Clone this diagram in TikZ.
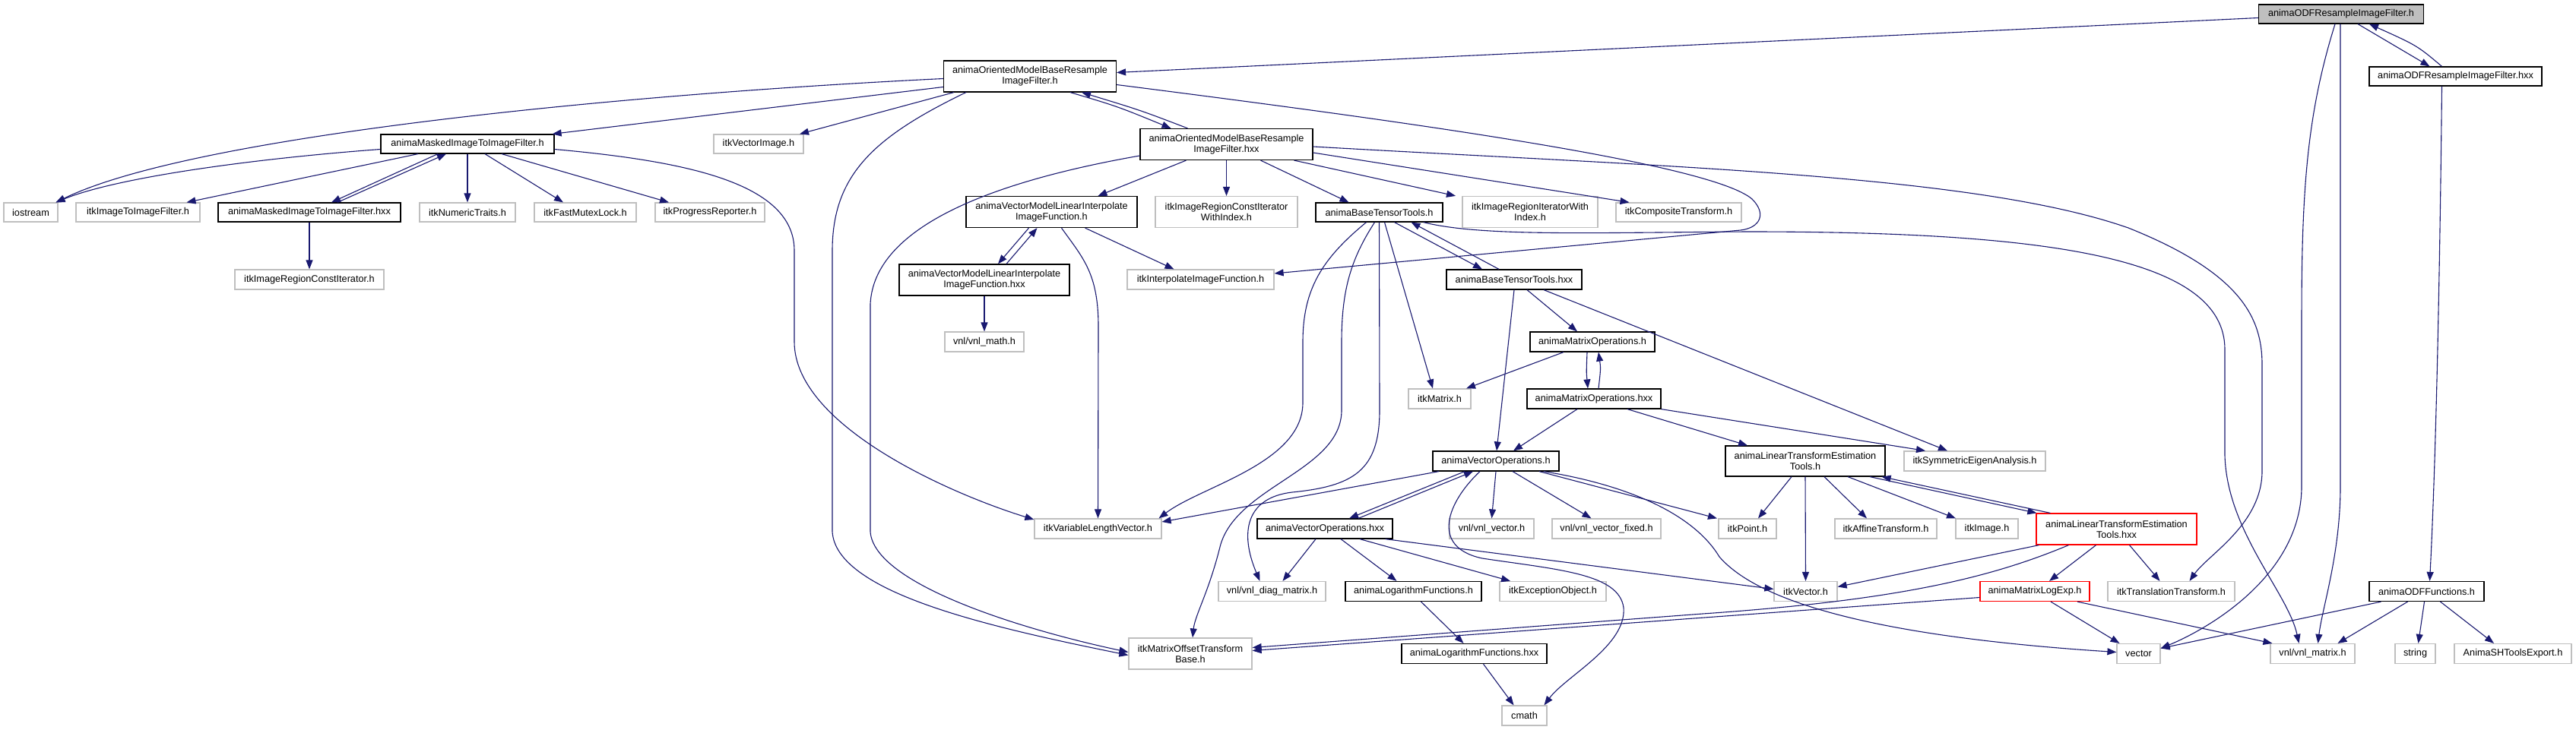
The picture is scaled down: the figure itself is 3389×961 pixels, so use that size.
\documentclass[tikz,border=0pt]{standalone}
\usepackage{fontspec}
\setmainfont{Liberation Sans}
\usetikzlibrary{arrows.meta}
\definecolor{eblue}{HTML}{191970}
\definecolor{egrey}{HTML}{BFBFBF}
\newcommand{\nfont}{\fontsize{12.7}{14}\selectfont}
\begin{document}
\begin{tikzpicture}[x=1pt,y=-1pt,
  box/.style={inner sep=0pt, align=center, font=\nfont, fill=white, line width=1.2pt},
  doc/.style={box, draw=black},
  ext/.style={box, draw=egrey},
  trunc/.style={box, draw=red},
  mainbox/.style={box, draw=black, fill=egrey},
  sz/.style 2 args={minimum width=#1pt, minimum height=#2pt},
  dep/.style={draw=eblue, line width=1.1pt, -{Triangle[length=12pt,width=9pt]}}]
\fill[white] (0,0) rectangle (3389,961);
\useasboundingbox (0,0) rectangle (3389,961);

% nodes
\node[mainbox, sz={217}{25}] (odfh) at (3080,18.5) {animaODFResampleImageFilter.h};
\node[doc, sz={227}{25}] (odfhxx) at (3230.5,100.5) {animaODFResampleImageFilter.hxx};
\node[doc, sz={227}{41}] (orh) at (1355,100.5) {animaOrientedModelBaseResample\\ImageFilter.h};
\node[doc, sz={228}{25}] (mfh) at (615,189.5) {animaMaskedImageToImageFilter.h};
\node[ext, sz={118}{25}] (vecimg) at (998,189.5) {itkVectorImage.h};
\node[doc, sz={227}{41}] (orhxx) at (1613.5,190) {animaOrientedModelBaseResample\\ImageFilter.hxx};
\node[ext, sz={71}{25}] (iostream) at (40.5,279.5) {iostream};
\node[ext, sz={163}{25}] (itkItoI) at (181.5,279.5) {itkImageToImageFilter.h};
\node[doc, sz={240}{25}] (mfhxx) at (407,279.5) {animaMaskedImageToImageFilter.hxx};
\node[ext, sz={126}{25}] (numtr) at (615,279.5) {itkNumericTraits.h};
\node[ext, sz={134}{25}] (fastmutex) at (770,279.5) {itkFastMutexLock.h};
\node[ext, sz={144}{25}] (progress) at (934,279.5) {itkProgressReporter.h};
\node[doc, sz={225}{41}] (vmh) at (1383.5,279) {animaVectorModelLinearInterpolate\\ImageFunction.h};
\node[ext, sz={187}{41}] (citeridx) at (1613.5,279) {itkImageRegionConstIterator\\WithIndex.h};
\node[doc, sz={167}{25}] (btth) at (1814.5,279.5) {animaBaseTensorTools.h};
\node[ext, sz={178}{41}] (iteridx) at (2013,279) {itkImageRegionIteratorWith\\Index.h};
\node[ext, sz={165}{25}] (composite) at (2208.5,279.5) {itkCompositeTransform.h};
\node[ext, sz={196}{26}] (citer) at (407,368) {itkImageRegionConstIterator.h};
\node[doc, sz={224}{41}] (vmhxx) at (1295,368.5) {animaVectorModelLinearInterpolate\\ImageFunction.hxx};
\node[ext, sz={193}{26}] (interp) at (1579.5,368) {itkInterpolateImageFunction.h};
\node[doc, sz={178}{26}] (btthxx) at (1992,368) {animaBaseTensorTools.hxx};
\node[ext, sz={104}{26}] (vnlmath) at (1295,450) {vnl/vnl\_math.h};
\node[doc, sz={164}{26}] (matoph) at (2095,450) {animaMatrixOperations.h};
\node[ext, sz={82}{26}] (itkmatrix) at (1894,525) {itkMatrix.h};
\node[doc, sz={176}{26}] (matophxx) at (2097,525) {animaMatrixOperations.hxx};
\node[doc, sz={166}{26}] (vecoph) at (1968,607) {animaVectorOperations.h};
\node[doc, sz={210}{40}] (ltet) at (2375,607) {animaLinearTransformEstimation\\Tools.h};
\node[ext, sz={186}{26}] (symeig) at (2598,607) {itkSymmetricEigenAnalysis.h};
\node[ext, sz={167}{26}] (varlen) at (1444.5,696) {itkVariableLengthVector.h};
\node[doc, sz={178}{26}] (vecophxx) at (1743,696) {animaVectorOperations.hxx};
\node[ext, sz={111}{26}] (vnlvec) at (1962.5,696) {vnl/vnl\_vector.h};
\node[ext, sz={143}{26}] (vnlvecfixed) at (2113.5,696) {vnl/vnl\_vector\_fixed.h};
\node[ext, sz={76}{26}] (itkpoint) at (2299,696) {itkPoint.h};
\node[ext, sz={134}{26}] (affine) at (2481,696) {itkAffineTransform.h};
\node[ext, sz={82}{26}] (itkimage) at (2614,696) {itkImage.h};
\node[trunc, sz={211}{41}] (ltethxx) at (2784.5,696.5) {animaLinearTransformEstimation\\Tools.hxx};
\node[ext, sz={141}{26}] (diag) at (1673.5,778.5) {vnl/vnl\_diag\_matrix.h};
\node[doc, sz={179}{26}] (logh) at (1859.5,778.5) {animaLogarithmFunctions.h};
\node[ext, sz={140}{26}] (except) at (2043,778.5) {itkExceptionObject.h};
\node[ext, sz={83}{26}] (itkvector) at (2375.5,778.5) {itkVector.h};
\node[trunc, sz={144}{26}] (logexp) at (2677,778.5) {animaMatrixLogExp.h};
\node[ext, sz={167}{26}] (transl) at (2856.5,778.5) {itkTranslationTransform.h};
\node[doc, sz={151}{26}] (odffunc) at (3192.5,778.5) {animaODFFunctions.h};
\node[ext, sz={162}{41}] (matoffset) at (1566,860.5) {itkMatrixOffsetTransform\\Base.h};
\node[doc, sz={191}{26}] (loghxx) at (1939.5,860.5) {animaLogarithmFunctions.hxx};
\node[ext, sz={57}{26}] (vector) at (2813.5,860.5) {vector};
\node[ext, sz={111}{26}] (vnlmatrix) at (3042.5,860.5) {vnl/vnl\_matrix.h};
\node[ext, sz={53}{26}] (string) at (3177.5,860.5) {string};
\node[ext, sz={154}{26}] (shtools) at (3306,860.5) {AnimaSHToolsExport.h};
\node[ext, sz={59}{26}] (cmath) at (2005.5,942) {cmath};

% edges from animaODFResampleImageFilter.h
\draw[dep] ([yshift=-5pt]odfh.west) -- ([yshift=5pt]orh.east);
\draw[dep] ([xshift=22pt]odfh.south) -- ([xshift=-34pt]odfhxx.north);
\draw[dep] ([xshift=-18pt]odfhxx.north) .. controls (3180,60) .. ([xshift=37pt]odfh.south);
\draw[dep] ([xshift=-8pt]odfh.south) .. controls (3035,150) and (3028,250) .. (3028,420) -- (3028,640) .. controls (3028,760) and (2900,830) .. ([yshift=7pt]vector.east);
\draw[dep] ([xshift=-1pt]odfh.south) -- (3079,640) .. controls (3079,730) and (3055,800) .. ([xshift=7pt]vnlmatrix.north);
\draw[dep] ([xshift=-18pt]odfhxx.south) .. controls (3210,350) and (3205,600) .. ([xshift=4pt]odffunc.north);

% animaODFFunctions.h
\draw[dep] ([xshift=-60pt]odffunc.south) -- ([yshift=7pt]vector.east);
\draw[dep] ([xshift=-25pt]odffunc.south) -- ([xshift=33pt]vnlmatrix.north);
\draw[dep] ([xshift=-3pt]odffunc.south) -- ([xshift=4pt]string.north);
\draw[dep] ([xshift=18pt]odffunc.south) -- ([xshift=-25pt]shtools.north);

% animaOrientedModelBaseResampleImageFilter.h
\draw[dep] ([yshift=-3pt]orh.west) .. controls (800,125) and (250,180) .. ([xshift=33pt]iostream.north);
\draw[dep] ([yshift=-14pt]orh.west) -- ([xshift=-3pt]mfh.north east);
\draw[dep] ([xshift=14pt]orh.south west) -- ([xshift=54pt]vecimg.north);
\draw[dep] ([xshift=30pt]orh.south west) .. controls (1150,180) and (1095,230) .. (1095,330) -- (1095,700) .. controls (1100,780) and (1300,825) .. ([yshift=-2pt]matoffset.west);
\draw[dep] ([xshift=53pt]orh.south) .. controls (1470,140) .. ([xshift=-73pt]orhxx.north);
\draw[dep] ([xshift=-51pt]orhxx.north) .. controls (1500,145) .. ([xshift=68pt]orh.south);
\draw[dep] ([yshift=-11pt]orh.east) .. controls (1850,160) and (2250,215) .. (2305,262) .. controls (2325,282) and (2315,300) .. (2290,303) -- ([yshift=8pt]interp.east);

% animaOrientedModelBaseResampleImageFilter.hxx
\draw[dep] ([xshift=-53pt]orhxx.south) -- ([xshift=61pt]vmh.north);
\draw[dep] (orhxx.south) -- (citeridx.north);
\draw[dep] ([xshift=45pt]orhxx.south) -- ([xshift=-40pt]btth.north);
\draw[dep] ([xshift=89pt]orhxx.south) -- ([xshift=-98pt]iteridx.north);
\draw[dep] ([yshift=-11pt]orhxx.east) -- ([xshift=-65pt]composite.north);
\draw[dep] ([yshift=-3pt]orhxx.east) .. controls (2200,220) and (2600,230) .. (2800,300) .. controls (2950,360) and (2976,420) .. (2976,480) -- (2976,620) .. controls (2976,690) and (2905,730) .. ([xshift=24pt]transl.north);
\draw[dep] ([yshift=-15pt]orhxx.west) .. controls (1300,240) and (1150,300) .. (1145,400) -- (1145,700) .. controls (1150,770) and (1350,830) .. ([yshift=2pt]matoffset.west);

% animaMaskedImageToImageFilter.h
\draw[dep] ([yshift=-7pt]mfh.west) .. controls (320,210) and (150,235) .. ([xshift=33pt]iostream.north);
\draw[dep] ([xshift=-65pt]mfh.south) -- ([xshift=64pt]itkItoI.north);
\draw[dep] ([xshift=-39pt]mfh.south) -- ([xshift=29pt]mfhxx.north);
\draw[dep] ([xshift=37pt]mfhxx.north) -- ([xshift=-28pt]mfh.south);
\draw[dep] (mfh.south) -- (numtr.north);
\draw[dep] ([xshift=23pt]mfh.south) -- ([xshift=-29pt]fastmutex.north);
\draw[dep] ([xshift=45pt]mfh.south) -- ([xshift=-54pt]progress.north);
\draw[dep] ([yshift=-7pt]mfh.east) .. controls (900,212) and (1045,240) .. (1045,330) -- (1045,450) .. controls (1045,560) and (1250,650) .. ([yshift=12pt]varlen.west);
\draw[dep] (mfhxx.south) -- (citer.north);

% animaVectorModelLinearInterpolateImageFunction
\draw[dep] ([xshift=-30pt]vmh.south) -- ([xshift=18pt]vmhxx.north);
\draw[dep] ([xshift=29pt]vmhxx.north) -- ([xshift=-19pt]vmh.south);
\draw[dep] ([xshift=44pt]vmh.south) -- ([xshift=-35pt]interp.north);
\draw[dep] ([xshift=13pt]vmh.south) .. controls (1425,340) and (1445,360) .. (1445,430) -- (varlen.north);
\draw[dep] (vmhxx.south) -- (vnlmath.north);

% animaBaseTensorTools.h
\draw[dep] ([xshift=-17pt]btth.south) .. controls (1740,340) and (1714,380) .. (1714,450) -- (1714,530) .. controls (1714,610) and (1580,640) .. ([xshift=80pt]varlen.north);
\draw[dep] ([xshift=-6pt]btth.south) .. controls (1778,340) and (1765,380) .. (1765,450) -- (1765,540) .. controls (1765,620) and (1625,640) .. (1605,720) .. controls (1590,780) and (1572,810) .. ([xshift=3pt]matoffset.north);
\draw[dep] (btth.south) -- (1815,540) .. controls (1815,620) and (1780,640) .. (1700,648) .. controls (1640,655) and (1630,700) .. ([xshift=-16pt]diag.north);
\draw[dep] ([xshift=7pt]btth.south) -- ([xshift=-9pt]itkmatrix.north);
\draw[dep] ([xshift=20pt]btth.south) -- ([xshift=-42pt]btthxx.north);
\draw[dep] ([xshift=-20pt]btthxx.north) -- ([xshift=42pt]btth.south);
\draw[dep] ([xshift=-26pt]btth.south east) .. controls (1950,312) and (2100,306) .. (2300,305) .. controls (2700,305) and (2927,340) .. (2927,460) -- (2927,600) .. controls (2930,700) and (3010,780) .. ([xshift=-18pt]vnlmatrix.north);

% animaBaseTensorTools.hxx
\draw[dep] ([xshift=17pt]btthxx.south) -- ([xshift=-20pt]matoph.north);
\draw[dep] (btthxx.south) -- ([xshift=1pt]vecoph.north);
\draw[dep] ([xshift=39pt]btthxx.south) -- ([xshift=-36pt]symeig.north);

% animaMatrixOperations
\draw[dep] ([xshift=-38pt]matoph.south) -- ([xshift=35pt]itkmatrix.north);
\draw[dep] ([xshift=-7pt]matoph.south) .. controls (2087,490) .. ([xshift=-8pt]matophxx.north);
\draw[dep] ([xshift=6pt]matophxx.north) .. controls (2106,485) .. ([xshift=8pt]matoph.south);
\draw[dep] ([xshift=-22pt]matophxx.south) -- ([xshift=23pt]vecoph.north);
\draw[dep] ([xshift=44pt]matophxx.south) -- ([xshift=-76pt]ltet.north);
\draw[dep] (matophxx.south east) -- ([xshift=-65pt]symeig.north);

% animaVectorOperations.h
\draw[dep] ([xshift=-75pt]vecoph.south) -- ([yshift=9pt]varlen.east);
\draw[dep] ([xshift=-41pt]vecoph.south) -- ([xshift=32pt]vecophxx.north);
\draw[dep] ([xshift=44pt]vecophxx.north) -- ([xshift=-30pt]vecoph.south);
\draw[dep] ([xshift=-21pt]vecoph.south) .. controls (1905,660) and (1880,720) .. (1950,735) .. controls (2050,750) and (2130,755) .. (2136,800) .. controls (2140,850) and (2060,890) .. ([xshift=26pt]cmath.north);
\draw[dep] (vecoph.south) -- (vnlvec.north);
\draw[dep] ([xshift=22pt]vecoph.south) -- ([xshift=-20pt]vnlvecfixed.north);
\draw[dep] ([xshift=57pt]vecoph.south) -- ([xshift=-40pt]itkpoint.north);
\draw[dep] ([xshift=63pt]vecoph.south) .. controls (2150,640) and (2230,680) .. (2262,733) .. controls (2320,800) and (2500,840) .. ([yshift=2pt]vector.west);

% animaVectorOperations.hxx
\draw[dep] ([xshift=-12pt]vecophxx.south) -- ([xshift=14pt]diag.north);
\draw[dep] ([xshift=21pt]vecophxx.south) -- ([xshift=-22pt]logh.north);
\draw[dep] ([xshift=46pt]vecophxx.south) -- ([xshift=-56pt]except.north);
\draw[dep] ([xshift=-10pt]vecophxx.south east) -- ([yshift=3pt]itkvector.west);

% animaLogarithmFunctions
\draw[dep] ([xshift=10pt]logh.south) -- ([xshift=-14pt]loghxx.north);
\draw[dep] ([xshift=12pt]loghxx.south) -- ([xshift=-14pt]cmath.north);

% animaLinearTransformEstimationTools.h
\draw[dep] ([xshift=-18pt]ltet.south) -- ([xshift=14pt]itkpoint.north);
\draw[dep] (ltet.south) -- (itkvector.north);
\draw[dep] ([xshift=25pt]ltet.south) -- ([xshift=-25pt]affine.north);
\draw[dep] ([xshift=56pt]ltet.south) -- ([xshift=-41pt]itkimage.north);
\draw[dep] ([xshift=85pt]ltet.south) -- ([xshift=1pt]ltethxx.north west);
\draw[dep] ([xshift=19pt]ltethxx.north west) -- ([xshift=-5pt]ltet.south east);

% animaLinearTransformEstimationTools.hxx
\draw[dep] ([xshift=4pt]ltethxx.south west) -- ([yshift=6pt]itkvector.east);
\draw[dep] ([xshift=-63pt]ltethxx.south) .. controls (2620,760) and (2500,790) .. (2240,808) -- ([yshift=8pt]matoffset.east);
\draw[dep] ([xshift=-27pt]ltethxx.south) -- ([xshift=19pt]logexp.north);
\draw[dep] ([xshift=17pt]ltethxx.south) -- ([xshift=-15pt]transl.north);

% animaMatrixLogExp.h
\draw[dep] ([yshift=-8pt]logexp.west) -- ([yshift=4pt]matoffset.east);
\draw[dep] ([xshift=21pt]logexp.south) -- ([xshift=-25pt]vector.north);
\draw[dep] ([xshift=56pt]logexp.south) -- ([xshift=3pt]vnlmatrix.north west);
\end{tikzpicture}
\end{document}
